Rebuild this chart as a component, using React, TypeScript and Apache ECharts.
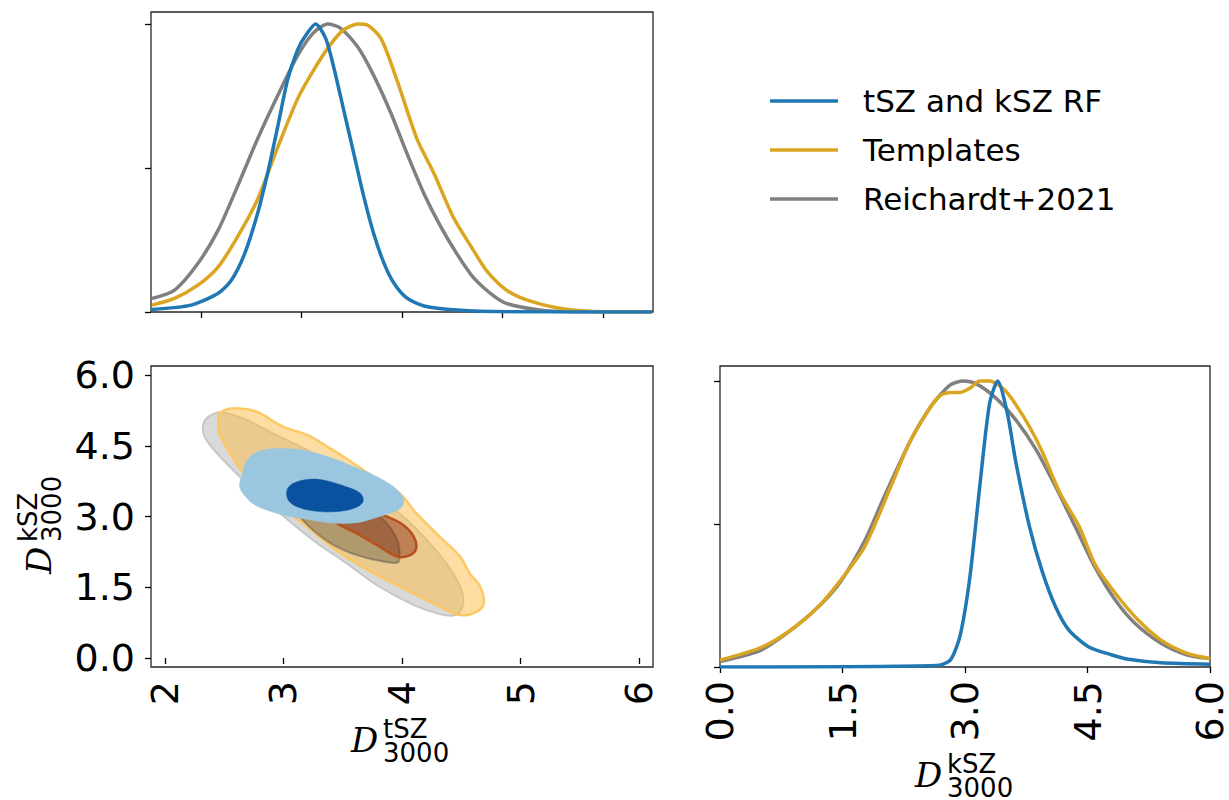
import React, { useEffect, useRef } from "react";
import * as echarts from "echarts";

// Series names
const NAME_RF = "tSZ and kSZ RF";
const NAME_TPL = "Templates";
const NAME_R21 = "Reichardt+2021";

const COLOR_RF = "#1f77b4";
const COLOR_TPL = "#daa520";
const COLOR_R21 = "#808080";

// Marginal posterior of D_3000^tSZ (normalised to peak = 1)
const tszRf: number[][] = [
  [1.51, 0.009], [1.9, 0.024], [2.17, 0.065], [2.3, 0.11], [2.43, 0.2], [2.56, 0.34],
  [2.66, 0.48], [2.76, 0.64], [2.86, 0.805], [2.96, 0.91], [3.04, 0.96], [3.14, 1.0],
  [3.24, 0.95], [3.32, 0.85], [3.42, 0.7], [3.52, 0.55], [3.62, 0.4], [3.72, 0.27],
  [3.82, 0.17], [3.92, 0.1], [4.05, 0.048], [4.22, 0.021], [4.55, 0.007], [5.04, 0.001],
  [6.49, 0.0],
];
const tszTemplates: number[][] = [
  [1.51, 0.024], [1.735, 0.047], [1.97, 0.094], [2.17, 0.157], [2.36, 0.26], [2.56, 0.39],
  [2.76, 0.57], [2.96, 0.74], [3.12, 0.84], [3.29, 0.93], [3.42, 0.98], [3.56, 1.0],
  [3.65, 0.997], [3.79, 0.95], [3.95, 0.805], [4.15, 0.6], [4.32, 0.48], [4.51, 0.33],
  [4.71, 0.215], [4.85, 0.14], [5.04, 0.076], [5.24, 0.042], [5.54, 0.015], [5.87, 0.003],
  [6.49, 0.0],
];
const tszReichardt: number[][] = [
  [1.51, 0.047], [1.735, 0.076], [1.97, 0.17], [2.17, 0.285], [2.36, 0.435], [2.56, 0.6],
  [2.76, 0.75], [2.96, 0.89], [3.12, 0.97], [3.26, 1.0], [3.39, 0.985], [3.56, 0.92],
  [3.72, 0.82], [3.89, 0.69], [4.05, 0.55], [4.22, 0.41], [4.38, 0.3], [4.55, 0.2],
  [4.71, 0.12], [4.88, 0.065], [5.04, 0.03], [5.37, 0.007], [5.7, 0.001], [6.49, 0.0],
];

// Marginal posterior of D_3000^kSZ (normalised to peak = 1)
const kszRf: number[][] = [
  [0.0, 0.0], [2.65, 0.005], [2.82, 0.024], [2.94, 0.11], [3.06, 0.315], [3.18, 0.63],
  [3.3, 0.92], [3.4, 1.0], [3.52, 0.885], [3.62, 0.72], [3.79, 0.49], [3.95, 0.33],
  [4.11, 0.21], [4.27, 0.13], [4.51, 0.071], [4.8, 0.042], [5.0, 0.027], [5.4, 0.015],
  [6.0, 0.01],
];
const kszTemplates: number[][] = [
  [0.0, 0.024], [0.51, 0.069], [0.88, 0.132], [1.2, 0.21], [1.44, 0.29], [1.77, 0.42],
  [2.09, 0.63], [2.33, 0.79], [2.58, 0.91], [2.7, 0.95], [2.82, 0.96], [2.94, 0.96],
  [3.06, 0.975], [3.18, 1.0], [3.3, 1.0], [3.46, 0.975], [3.58, 0.935], [3.79, 0.84],
  [3.95, 0.75], [4.16, 0.61], [4.4, 0.49], [4.59, 0.36], [4.84, 0.258], [5.12, 0.164],
  [5.4, 0.094], [5.72, 0.048], [6.0, 0.03],
];
const kszReichardt: number[][] = [
  [0.0, 0.019], [0.51, 0.06], [0.92, 0.14], [1.24, 0.22], [1.48, 0.3], [1.77, 0.44],
  [2.01, 0.595], [2.33, 0.79], [2.58, 0.91], [2.82, 0.986], [2.98, 1.0], [3.14, 0.99],
  [3.38, 0.94], [3.62, 0.865], [3.87, 0.76], [4.11, 0.63], [4.35, 0.49], [4.59, 0.35],
  [4.84, 0.234], [5.08, 0.153], [5.4, 0.083], [5.72, 0.042], [6.0, 0.03],
];

// Joint (tSZ, kSZ) credible regions: outer = 95%, inner = 68%
const r21Outer: number[][] = [
  [2.436, 5.2], [2.34, 5.05], [2.32, 4.83], [2.35, 4.62], [2.49, 4.2], [2.72, 3.63],
  [2.97, 3.07], [3.25, 2.5], [3.53, 2.01], [3.81, 1.51], [4.1, 1.12], [4.32, 0.93],
  [4.45, 0.91], [4.51, 1.09], [4.51, 1.37], [4.43, 1.8], [4.26, 2.36], [4.04, 2.93],
  [3.76, 3.49], [3.48, 3.99], [3.2, 4.41], [2.91, 4.76], [2.69, 5.05], [2.52, 5.19],
];
const tplOuter: number[][] = [
  [2.46, 5.19], [2.56, 5.29], [2.72, 5.26], [2.8, 5.19], [3.0, 4.9], [3.2, 4.73],
  [3.39, 4.45], [3.53, 4.23], [3.76, 3.84], [3.98, 3.49], [4.12, 3.07], [4.32, 2.57],
  [4.49, 2.15], [4.57, 1.8], [4.66, 1.51], [4.69, 1.16], [4.63, 0.98], [4.49, 0.91],
  [4.32, 1.09], [4.04, 1.44], [3.76, 1.8], [3.48, 2.22], [3.2, 2.78], [2.91, 3.35],
  [2.69, 3.84], [2.55, 4.34], [2.46, 4.76], [2.45, 5.05],
];
const r21Inner: number[][] = [
  [3.11, 3.07], [3.25, 2.71], [3.42, 2.4], [3.62, 2.18], [3.81, 2.06], [3.96, 2.02],
  [3.98, 2.15], [3.96, 2.5], [3.87, 2.86], [3.73, 3.14], [3.53, 3.35], [3.31, 3.42],
  [3.14, 3.35], [3.08, 3.21],
];
const tplInner: number[][] = [
  [3.45, 2.86], [3.62, 2.64], [3.81, 2.36], [3.96, 2.15], [4.07, 2.18], [4.12, 2.33],
  [4.1, 2.57], [4.01, 2.82], [3.87, 3.0], [3.7, 3.14], [3.53, 3.14], [3.42, 3.0],
];
const rfOuter: number[][] = [
  [2.72, 4.27], [2.8, 4.39], [2.97, 4.44], [3.2, 4.39], [3.42, 4.23], [3.59, 4.06],
  [3.76, 3.88], [3.93, 3.63], [4.01, 3.39], [4.0, 3.21], [3.93, 3.1], [3.76, 2.96],
  [3.62, 2.87], [3.42, 2.86], [3.2, 2.94], [2.97, 3.05], [2.77, 3.23], [2.68, 3.42],
  [2.63, 3.63], [2.65, 3.88], [2.68, 4.13],
];
const rfInner: number[][] = [
  [3.03, 3.56], [3.08, 3.7], [3.22, 3.79], [3.36, 3.76], [3.53, 3.63], [3.65, 3.49],
  [3.67, 3.31], [3.59, 3.17], [3.42, 3.1], [3.25, 3.12], [3.11, 3.21], [3.04, 3.35],
];

// Tick values
const tszTicks = [2, 3, 4, 5, 6];
const kszTicks = [0, 1.5, 3, 4.5, 6];
const densityTicks = [0, 0.5, 1];

const FONT = "DejaVu Sans";
const TICK_FONT = 38;

const tickStyle = { lineStyle: { color: "#000", width: 1.3 }, length: 6, inside: false };

function lineSeries(name: string, color: string, data: number[][], axis: number, z: number) {
  return {
    type: "line",
    name,
    data,
    xAxisIndex: axis,
    yAxisIndex: axis,
    showSymbol: false,
    symbol: "none",
    smooth: 0.25,
    z,
    lineStyle: { color, width: 3.5 },
    itemStyle: { color },
  };
}

function contourSeries(
  id: string,
  pts: number[][],
  fill: string,
  stroke: string,
  lineWidth: number,
  z: number
) {
  return {
    type: "custom",
    id,
    xAxisIndex: 1,
    yAxisIndex: 1,
    data: pts,
    z,
    silent: true,
    clip: true,
    renderItem: (params: any, api: any) => {
      if (params.dataIndex !== 0) return null;
      const points = pts.map((p) => api.coord(p));
      return {
        type: "polygon",
        shape: { points, smooth: 0.35 },
        style: { fill, stroke, lineWidth },
      };
    },
  };
}

function mathLabel(x: number, y: number, sup: string, rotation: number) {
  return {
    type: "group",
    x,
    y,
    rotation,
    children: [
      {
        type: "text",
        x: 0,
        y: 0,
        style: {
          text: "D",
          fontSize: 34,
          fontFamily: "DejaVu Serif",
          fontStyle: "italic",
          fill: "#000",
          align: "left",
          verticalAlign: "middle",
        },
      },
      {
        type: "text",
        x: 32,
        y: -11,
        style: { text: sup, fontSize: 26, fontFamily: FONT, fill: "#000", align: "left", verticalAlign: "middle" },
      },
      {
        type: "text",
        x: 32,
        y: 13,
        style: { text: "3000", fontSize: 26, fontFamily: FONT, fill: "#000", align: "left", verticalAlign: "middle" },
      },
    ],
  };
}

export default function App() {
  const ref = useRef<HTMLDivElement>(null);

  useEffect(() => {
    if (!ref.current) return;
    const chart = echarts.init(ref.current, undefined, { renderer: "svg" });

    const gridBase = { show: true, borderColor: "#262626", borderWidth: 1.3, backgroundColor: "#fff" };
    const tickLabel = { fontSize: TICK_FONT, fontFamily: FONT, color: "#000" };

    const option: any = {
      animation: false,
      backgroundColor: "#fff",
      grid: [
        { ...gridBase, left: 151, top: 12, width: 502, height: 300 },
        { ...gridBase, left: 151, top: 366, width: 502, height: 301 },
        { ...gridBase, left: 720, top: 366, width: 495, height: 301 },
      ],
      xAxis: [
        {
          type: "value",
          gridIndex: 0,
          min: 1.5,
          max: 6.5,
          axisLine: { show: false },
          splitLine: { show: false },
          axisTick: { ...tickStyle, customValues: tszTicks },
          axisLabel: { show: false },
        },
        {
          type: "value",
          gridIndex: 1,
          min: 1.882,
          max: 6.118,
          axisLine: { show: false },
          splitLine: { show: false },
          axisTick: { ...tickStyle, customValues: tszTicks },
          axisLabel: {
            ...tickLabel,
            customValues: tszTicks,
            rotate: 90,
            margin: 14,
            formatter: (v: number) => String(v),
          },
        },
        {
          type: "value",
          gridIndex: 2,
          min: 0,
          max: 6,
          axisLine: { show: false },
          splitLine: { show: false },
          axisTick: { ...tickStyle, customValues: kszTicks },
          axisLabel: {
            ...tickLabel,
            customValues: kszTicks,
            rotate: 90,
            margin: 14,
            formatter: (v: number) => v.toFixed(1),
          },
        },
      ],
      yAxis: [
        {
          type: "value",
          gridIndex: 0,
          min: 0,
          max: 1.0417,
          axisLine: { show: false },
          splitLine: { show: false },
          axisTick: { ...tickStyle, customValues: densityTicks },
          axisLabel: { show: false },
        },
        {
          type: "value",
          gridIndex: 1,
          min: -0.191,
          max: 6.191,
          axisLine: { show: false },
          splitLine: { show: false },
          axisTick: { ...tickStyle, customValues: kszTicks },
          axisLabel: {
            ...tickLabel,
            customValues: kszTicks,
            margin: 16,
            formatter: (v: number) => v.toFixed(1),
          },
        },
        {
          type: "value",
          gridIndex: 2,
          min: 0,
          max: 1.0524,
          axisLine: { show: false },
          splitLine: { show: false },
          axisTick: { ...tickStyle, customValues: densityTicks },
          axisLabel: { show: false },
        },
      ],
      legend: {
        data: [NAME_RF, NAME_TPL, NAME_R21],
        orient: "vertical",
        left: 770,
        top: 84,
        padding: 0,
        icon: "rect",
        itemWidth: 68,
        itemHeight: 3.5,
        itemGap: 15,
        selectedMode: false,
        textStyle: {
          fontSize: 31,
          fontFamily: FONT,
          color: "#000",
          lineHeight: 34,
          padding: [0, 0, 0, 20],
        },
      },
      graphic: [
        mathLabel(351, 740, "tSZ", 0),
        mathLabel(915, 775, "kSZ", 0),
        mathLabel(39, 574, "kSZ", Math.PI / 2),
      ],
      series: [
        lineSeries(NAME_R21, COLOR_R21, tszReichardt, 0, 3),
        lineSeries(NAME_TPL, COLOR_TPL, tszTemplates, 0, 4),
        lineSeries(NAME_RF, COLOR_RF, tszRf, 0, 5),
        lineSeries(NAME_R21, COLOR_R21, kszReichardt, 2, 3),
        lineSeries(NAME_TPL, COLOR_TPL, kszTemplates, 2, 4),
        lineSeries(NAME_RF, COLOR_RF, kszRf, 2, 5),
        contourSeries("r21-95", r21Outer, "#d9d9d9", "#c6c6c6", 2, 2),
        contourSeries("tpl-95", tplOuter, "rgba(251,187,68,0.5)", "rgba(253,198,96,0.95)", 2.5, 3),
        contourSeries("r21-68", r21Inner, "rgba(90,80,60,0.4)", "rgba(80,80,80,0.45)", 2, 4),
        contourSeries("tpl-68", tplInner, "rgba(140,40,10,0.45)", "#b8501e", 2.5, 5),
        contourSeries("rf-95", rfOuter, "#9ac7df", "#9ac7df", 0.5, 6),
        contourSeries("rf-68", rfInner, "#0a52a0", "#0a52a0", 0.5, 7),
      ],
    };

    chart.setOption(option);
    return () => chart.dispose();
  }, []);

  return (
    <div
      ref={ref}
      style={{ position: "fixed", left: 0, top: 0, width: 1229, height: 800, background: "#fff" }}
    />
  );
}
